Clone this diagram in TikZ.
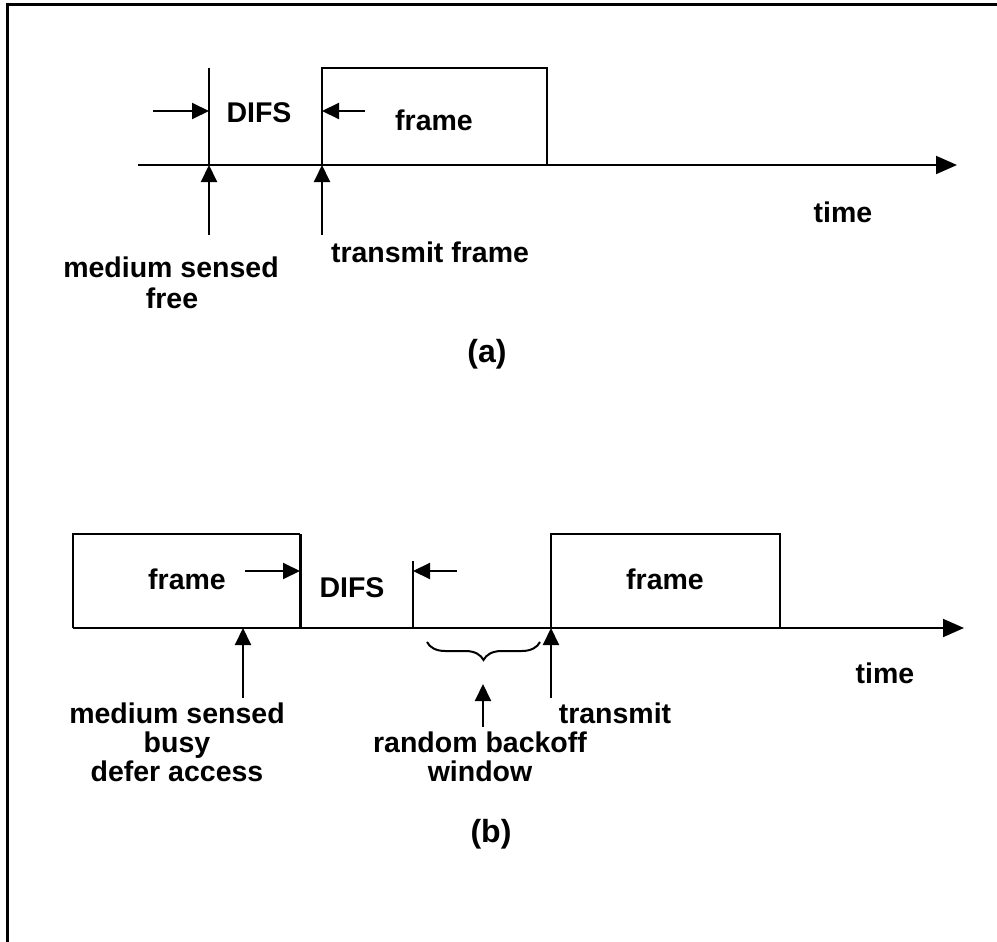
\documentclass[tikz,border=0pt]{standalone}
\usepackage{fontspec}
\setmainfont{Liberation Sans}
\usetikzlibrary{arrows.meta,decorations.pathreplacing}
\begin{document}
\begin{tikzpicture}[x=1pt,y=-1pt,
  line width=2pt,
  axis/.style={-{Triangle[length=21pt,width=18pt]}},
  pointer/.style={-{Triangle[length=17pt,width=16pt]}},
  lbl/.style={font=\bfseries\fontsize{28.5}{32}\selectfont,inner sep=0pt,anchor=base},
  figcap/.style={font=\bfseries\fontsize{32}{36}\selectfont,inner sep=0pt,anchor=base},
  brc/.style={decorate,decoration={brace,mirror,amplitude=18pt}}]
\useasboundingbox (0,0) rectangle (997,942);
% outer frame (top and left edges only)
\draw[line width=3pt] (7,942) -- (7,5) -- (997,5);

% ---------------- (a) ----------------
\coordinate (aL) at (138,165);
\coordinate (aR) at (957,165);
\draw[axis] (aL) -- (aR);
% DIFS start marker
\coordinate (a1top) at (209,68);
\coordinate (a1ax) at (209,165);
\coordinate (a1bot) at (209,235);
\draw (a1top) -- (a1ax);
\draw[pointer] (a1bot) -- (a1ax);
% transmitted frame
\coordinate (afTL) at (322,68);
\coordinate (afBL) at (322,165);
\coordinate (afTR) at (547,68);
\coordinate (afBR) at (547,165);
\coordinate (a2bot) at (322,235);
\draw (afBL) -- (afTL) -- (afTR) -- (afBR);
\draw[pointer] (a2bot) -- (afBL);
% DIFS interval arrows
\coordinate (adL0) at (153,111);
\coordinate (adL1) at (209,111);
\coordinate (adR0) at (365,111);
\coordinate (adR1) at (322,111);
\draw[pointer] (adL0) -- (adL1);
\draw[pointer] (adR0) -- (adR1);
% labels
\node[lbl] (aDIFS) at (259,123) {DIFS};
\node[lbl] (aFrame) at (434,130) {frame};
\node[lbl] (aTime) at (843,222) {time};
\node[lbl] (aMed) at (171,277) {medium sensed};
\node[lbl] (aFree) at (172,308) {free};
\node[lbl] (aTx) at (430,262) {transmit frame};
\node[figcap] (aCap) at (487,362) {(a)};

% ---------------- (b) ----------------
\coordinate (bL) at (73,628);
\coordinate (bR) at (964,628);
\draw[axis] (bL) -- (bR);
% busy frame
\coordinate (b1TL) at (73,534);
\coordinate (b1TR) at (300,534);
\coordinate (b1BR) at (300,628);
\draw (bL) -- (b1TL) -- (b1TR);
\draw[line width=3pt] (b1TR) -- (b1BR);
% end of DIFS
\coordinate (bdTop) at (413,561);
\coordinate (bdAx) at (413,628);
\draw (bdTop) -- (bdAx);
% second frame
\coordinate (b2TL) at (551,534);
\coordinate (b2BL) at (551,628);
\coordinate (b2TR) at (780,534);
\coordinate (b2BR) at (780,628);
\draw (b2BL) -- (b2TL) -- (b2TR) -- (b2BR);
% DIFS interval arrows
\coordinate (bdL0) at (245,571);
\coordinate (bdL1) at (300,571);
\coordinate (bdR0) at (457,571);
\coordinate (bdR1) at (413,571);
\draw[pointer] (bdL0) -- (bdL1);
\draw[pointer] (bdR0) -- (bdR1);
% event pointers
\coordinate (bBusyBot) at (243,698);
\coordinate (bBusyAx) at (243,628);
\draw[pointer] (bBusyBot) -- (bBusyAx);
\coordinate (bTxBot) at (551,698);
\draw[pointer] (bTxBot) -- (b2BL);
% backoff window brace
\coordinate (brL) at (427,642);
\coordinate (brR) at (540,642);
\draw[brc] (brL) -- (brR);
\coordinate (bkBot) at (483,727);
\coordinate (bkTip) at (483,684);
\draw[pointer] (bkBot) -- (bkTip);
% labels
\node[lbl] (bFrame1) at (187,589) {frame};
\node[lbl] (bDIFS) at (352,597) {DIFS};
\node[lbl] (bFrame2) at (665,589) {frame};
\node[lbl] (bTime) at (885,683) {time};
\node[lbl] (bMed) at (177,723) {medium sensed};
\node[lbl] (bBusy) at (177,752) {busy};
\node[lbl] (bDefer) at (177,781) {defer access};
\node[lbl] (bRand) at (480,752) {random backoff};
\node[lbl] (bWin) at (480,781) {window};
\node[lbl] (bTx) at (615,723) {transmit};
\node[figcap] (bCap) at (491,842) {(b)};
\end{tikzpicture}
\end{document}
